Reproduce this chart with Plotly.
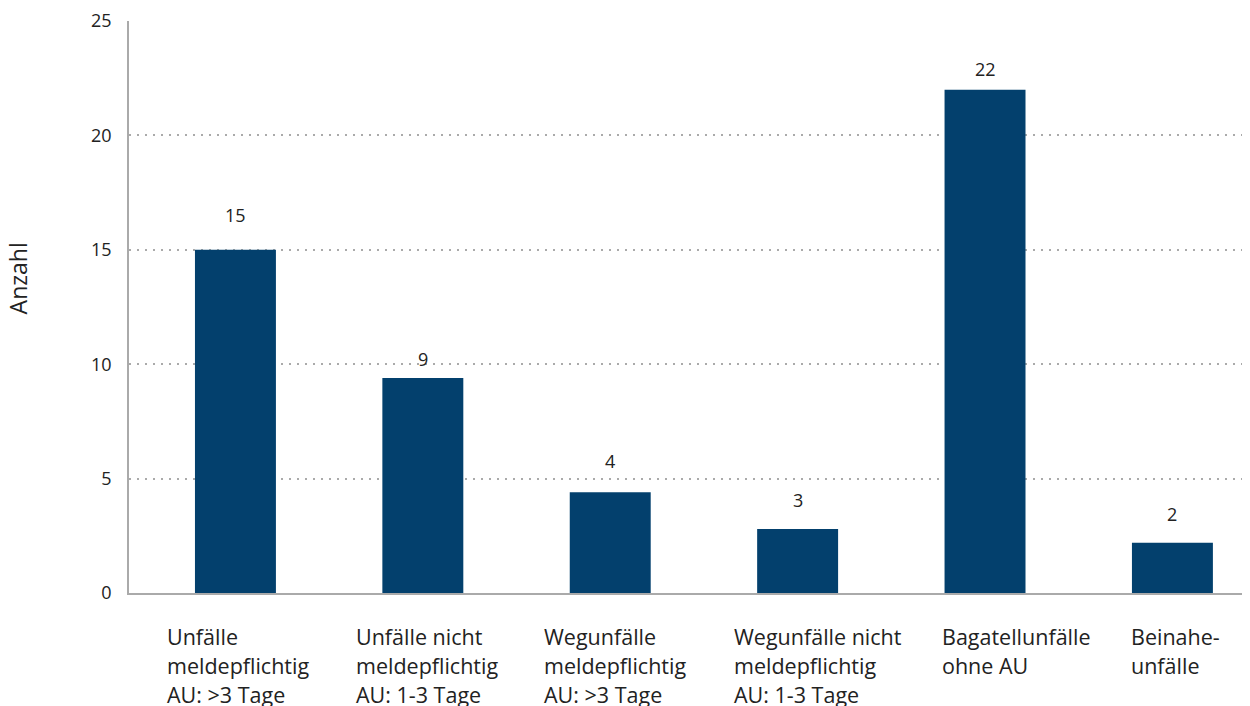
import plotly.graph_objects as go

# ---- data ----
categories = [
    "Unfälle meldepflichtig AU: >3 Tage",
    "Unfälle nicht meldepflichtig AU: 1-3 Tage",
    "Wegunfälle meldepflichtig AU: >3 Tage",
    "Wegunfälle nicht meldepflichtig AU: 1-3 Tage",
    "Bagatellunfälle ohne AU",
    "Beinahe-unfälle",
]
label_lines = [
    ["Unfälle", "meldepflichtig", "AU: >3 Tage"],
    ["Unfälle nicht", "meldepflichtig", "AU: 1-3 Tage"],
    ["Wegunfälle", "meldepflichtig", "AU: >3 Tage"],
    ["Wegunfälle nicht", "meldepflichtig", "AU: 1-3 Tage"],
    ["Bagatellunfälle", "ohne AU"],
    ["Beinahe-", "unfälle"],
]
bar_heights = [15.0, 9.4, 4.4, 2.8, 22.0, 2.2]   # as drawn in the picture
value_labels = ["15", "9", "4", "3", "22", "2"]
y_ticks = [0, 5, 10, 15, 20, 25]
y_title = "Anzahl"

# ---- style ----
BAR_COLOR = "#03406d"
TEXT_COLOR = "#222222"
GRID_COLOR = "#aaaaaa"
FONT = "Open Sans"
label_left_px = [70, 69, 68, 66, 45, 43]
value_label_shift = [35, 19, 31, 29, 21, 29]

fig = go.Figure()
fig.add_trace(go.Bar(
    x=categories, y=bar_heights, marker_color=BAR_COLOR,
    marker_line_width=0, width=0.432, hoverinfo="skip",
))

annotations = []
for cat, h, lab, sh in zip(categories, bar_heights, value_labels, value_label_shift):
    annotations.append(dict(x=cat, y=h, xref="x", yref="y", text=lab,
                            showarrow=False, yanchor="middle", yshift=sh,
                            font=dict(size=18, color=TEXT_COLOR, family=FONT)))
for cat, lines, lp in zip(categories, label_lines, label_left_px):
    for k, line in enumerate(lines):
        annotations.append(dict(x=cat, y=0, xref="x", yref="y", text=line,
                                showarrow=False, xanchor="left", yanchor="middle",
                                xshift=-lp, yshift=-43 - 29 * k,
                                font=dict(size=21.5, color=TEXT_COLOR, family=FONT)))
annotations.append(dict(x=0, y=0.55, xref="paper", yref="paper", text=y_title,
                        showarrow=False, textangle=-90, xanchor="center",
                        yanchor="middle", xshift=-111,
                        font=dict(size=23, color=TEXT_COLOR, family=FONT)))

# page body has an 8px margin, so the figure is sized/offset to compensate
fig.update_layout(
    width=1242, height=698,
    margin=dict(l=121, r=0, t=13, b=113),
    paper_bgcolor="white", plot_bgcolor="white",
    showlegend=False,
    font=dict(family=FONT, size=18, color=TEXT_COLOR),
    annotations=annotations,
    xaxis=dict(type="category", range=[-0.568, 5.414], showticklabels=False,
               showgrid=False, showline=True, linecolor=GRID_COLOR, linewidth=1.5,
               ticks="", zeroline=False, fixedrange=True),
    yaxis=dict(range=[0, 25], tickvals=y_ticks, showgrid=True,
               gridcolor=GRID_COLOR, griddash="2px,6px", gridwidth=2,
               showline=True, linecolor=GRID_COLOR, linewidth=1.5,
               zeroline=False, ticks="outside", ticklen=12,
               tickcolor="rgba(0,0,0,0)", tickfont=dict(size=18, color=TEXT_COLOR),
               fixedrange=True),
)

fig.write_html("out.html")
